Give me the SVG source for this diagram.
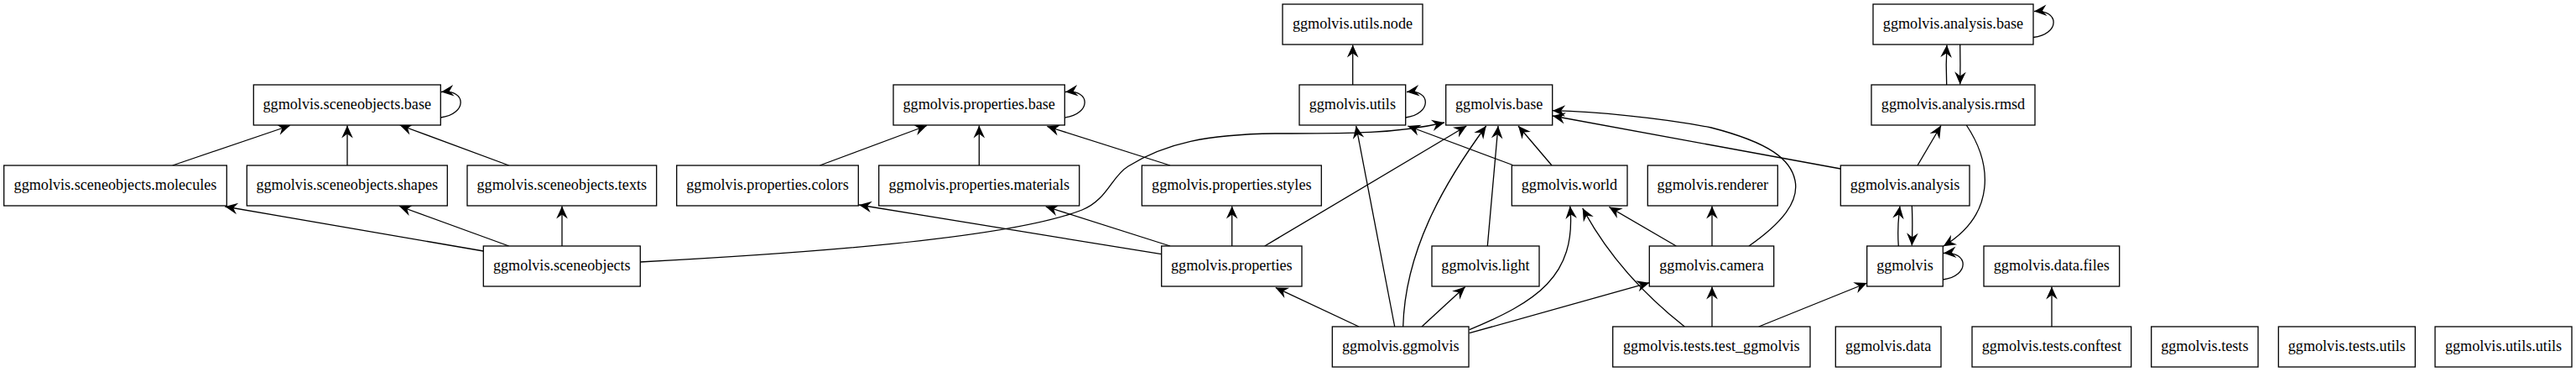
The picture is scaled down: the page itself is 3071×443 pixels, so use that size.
<svg xmlns="http://www.w3.org/2000/svg" width="3071" height="443" viewBox="0 0 3071 443">
<style>
.n rect{fill:#fff;stroke:#000;stroke-width:1.3}
.n text{font-family:"Liberation Serif","Times New Roman",serif;font-size:18.15px;fill:#000;text-anchor:middle}
.e path{fill:none;stroke:#000;stroke-width:1.3;marker-end:url(#a)}
</style>
<defs>
<marker id="a" viewBox="-16 -8 17 16" refX="0" refY="0" markerWidth="17" markerHeight="16" markerUnits="userSpaceOnUse" orient="auto">
<path d="M0,0 L-15,-6.8 L-10,0 L-15,6.8 Z" fill="#000"/>
</marker>
</defs>
<rect width="3071" height="443" fill="#fff"/>
<g id="edges" class="e">
<path d="M205.7,197 L345.7,149.5"/>
<path d="M414,197 L414,149.5"/>
<path d="M606.7,197 L476.7,149"/>
<path d="M525.3,140 C557,136 557,106 526,109.5"/>
<path d="M670,293 L670,245.5"/>
<path d="M606.7,293 L476,245.5"/>
<path d="M576.3,299 L268.3,246"/>
<path d="M763,312 C950,302 1200,285 1290,250 C1320,238 1325,210 1345,198 C1390,170 1440,160 1520,159 C1600,159 1660,160 1722,146"/>
<path d="M977.3,197 L1105,149.5"/>
<path d="M1167.3,197 L1167.3,149.5"/>
<path d="M1395,197 L1248.3,150.5"/>
<path d="M1269.3,140 C1301,136 1301,106 1270,109.5"/>
<path d="M1468.7,293 L1468.7,245.5"/>
<path d="M1395,293 L1246.7,246"/>
<path d="M1384.7,302.7 L1024,244"/>
<path d="M1507.7,293 L1748.3,150"/>
<path d="M1620,389 L1520.7,342.5"/>
<path d="M1662.7,389 L1616.7,150"/>
<path d="M1672.7,389 C1675,300 1720,220 1771.7,150"/>
<path d="M1695,389 L1746.7,341.5"/>
<path d="M1751.7,392.7 C1830,360 1880,330 1871.7,245.5"/>
<path d="M1751.7,396.7 L1966.3,336.7"/>
<path d="M1773.3,293 L1786,150"/>
<path d="M1850,197 L1810,150"/>
<path d="M1803.3,196.5 L1678.3,150"/>
<path d="M1675.7,140 C1707,136 1707,106 1677,109.5"/>
<path d="M1612.7,101 L1612.7,53.5"/>
<path d="M2194.3,201 L1851,138"/>
<path d="M2085,293 C2125,265 2145,240 2140,215 C2135,190 2110,170 2040,152 C1980,140 1900,133 1851,131.7"/>
<path d="M1998.3,293 L1918.3,246.5"/>
<path d="M2041,293 L2041,245.5"/>
<path d="M2041,389 L2041,341.5"/>
<path d="M2008.3,389 C1965,355 1920,310 1886.7,248"/>
<path d="M2096.7,389 L2225.7,337"/>
<path d="M2263.3,293 C2262,275 2263,260 2265,245.5"/>
<path d="M2279.3,245 C2280,260 2280,275 2279.3,292.5"/>
<path d="M2286,197 L2314,149.5"/>
<path d="M2320.7,101 C2320,85 2320,70 2321,53.5"/>
<path d="M2336.7,53 C2337,68 2337,85 2336.7,100.5"/>
<path d="M2424,44.5 C2456,41 2456,11 2425,13.5"/>
<path d="M2344.3,149 C2375,195 2380,255 2316.7,293.3"/>
<path d="M2316.3,333 C2348,329 2348,299 2317,301.5"/>
<path d="M2446,389 L2446,341.5"/>
</g>
<g id="n_sceneobjects_base" class="n"><rect x="302.3" y="101" width="223" height="48"/><text x="413.8" y="130">ggmolvis.sceneobjects.base</text></g>
<g id="n_sceneobjects_molecules" class="n"><rect x="4.7" y="197" width="265.6" height="48"/><text x="137.5" y="226">ggmolvis.sceneobjects.molecules</text></g>
<g id="n_sceneobjects_shapes" class="n"><rect x="294.3" y="197" width="239" height="48"/><text x="413.8" y="226">ggmolvis.sceneobjects.shapes</text></g>
<g id="n_sceneobjects_texts" class="n"><rect x="557" y="197" width="225.7" height="48"/><text x="669.8" y="226">ggmolvis.sceneobjects.texts</text></g>
<g id="n_sceneobjects" class="n"><rect x="576.3" y="293" width="187" height="48"/><text x="669.8" y="322">ggmolvis.sceneobjects</text></g>
<g id="n_properties_colors" class="n"><rect x="806.7" y="197" width="216.6" height="48"/><text x="915" y="226">ggmolvis.properties.colors</text></g>
<g id="n_properties_base" class="n"><rect x="1065" y="101" width="204.3" height="48"/><text x="1167.2" y="130">ggmolvis.properties.base</text></g>
<g id="n_properties_materials" class="n"><rect x="1047.7" y="197" width="239" height="48"/><text x="1167.2" y="226">ggmolvis.properties.materials</text></g>
<g id="n_properties_styles" class="n"><rect x="1361.3" y="197" width="214" height="48"/><text x="1468.3" y="226">ggmolvis.properties.styles</text></g>
<g id="n_properties" class="n"><rect x="1384.7" y="293" width="167.3" height="48"/><text x="1468.3" y="322">ggmolvis.properties</text></g>
<g id="n_utils_node" class="n"><rect x="1529" y="5" width="167" height="48"/><text x="1612.5" y="34">ggmolvis.utils.node</text></g>
<g id="n_utils" class="n"><rect x="1549" y="101" width="126.7" height="48"/><text x="1612.3" y="130">ggmolvis.utils</text></g>
<g id="n_base" class="n"><rect x="1723.7" y="101" width="127" height="48"/><text x="1787.2" y="130">ggmolvis.base</text></g>
<g id="n_world" class="n"><rect x="1802.3" y="197" width="137.7" height="48"/><text x="1871" y="226">ggmolvis.world</text></g>
<g id="n_light" class="n"><rect x="1707" y="293" width="128" height="48"/><text x="1771" y="322">ggmolvis.light</text></g>
<g id="n_ggmolvis_ggmolvis" class="n"><rect x="1588.3" y="389" width="162.7" height="48"/><text x="1669.7" y="418">ggmolvis.ggmolvis</text></g>
<g id="n_renderer" class="n"><rect x="1964.3" y="197" width="155" height="48"/><text x="2041.8" y="226">ggmolvis.renderer</text></g>
<g id="n_camera" class="n"><rect x="1966.3" y="293" width="148.4" height="48"/><text x="2040.5" y="322">ggmolvis.camera</text></g>
<g id="n_tests_test_ggmolvis" class="n"><rect x="1922.7" y="389" width="235.3" height="48"/><text x="2040.3" y="418">ggmolvis.tests.test_ggmolvis</text></g>
<g id="n_analysis_base" class="n"><rect x="2233" y="5" width="191" height="48"/><text x="2328.5" y="34">ggmolvis.analysis.base</text></g>
<g id="n_analysis_rmsd" class="n"><rect x="2231" y="101" width="195" height="48"/><text x="2328.5" y="130">ggmolvis.analysis.rmsd</text></g>
<g id="n_analysis" class="n"><rect x="2194.3" y="197" width="153.7" height="48"/><text x="2271" y="226">ggmolvis.analysis</text></g>
<g id="n_ggmolvis" class="n"><rect x="2225.7" y="293" width="90.6" height="48"/><text x="2271" y="322">ggmolvis</text></g>
<g id="n_data" class="n"><rect x="2188.3" y="389" width="125.7" height="48"/><text x="2251.2" y="418">ggmolvis.data</text></g>
<g id="n_data_files" class="n"><rect x="2365" y="293" width="161.7" height="48"/><text x="2445.8" y="322">ggmolvis.data.files</text></g>
<g id="n_tests_conftest" class="n"><rect x="2351" y="389" width="189.7" height="48"/><text x="2445.8" y="418">ggmolvis.tests.conftest</text></g>
<g id="n_tests" class="n"><rect x="2564.7" y="389" width="127.3" height="48"/><text x="2628.3" y="418">ggmolvis.tests</text></g>
<g id="n_tests_utils" class="n"><rect x="2716.3" y="389" width="163" height="48"/><text x="2797.8" y="418">ggmolvis.tests.utils</text></g>
<g id="n_utils_utils" class="n"><rect x="2903" y="389" width="163" height="48"/><text x="2984.5" y="418">ggmolvis.utils.utils</text></g>
</svg>
